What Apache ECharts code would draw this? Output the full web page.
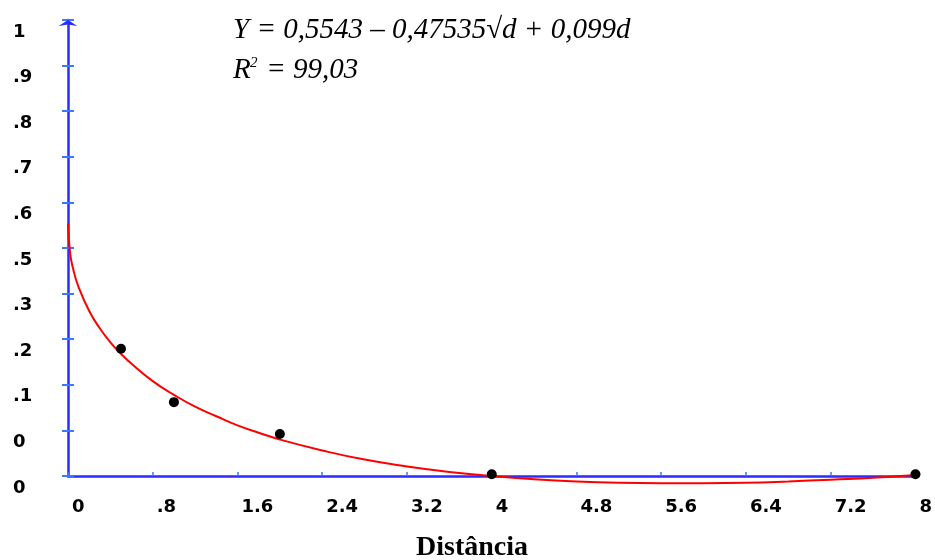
<!DOCTYPE html>
<html>
<head>
<meta charset="utf-8">
<script src="https://cdn.jsdelivr.net/npm/echarts@6/dist/echarts.min.js"></script>
<style>
  html, body { margin: 0; padding: 0; background: #fff; }
  #chart { width: 935px; height: 560px; }
</style>
</head>
<body>
<div id="chart"></div>
<script>
let chart = echarts.init(document.getElementById('chart'));

// pontos observados (distância, Y)
let obs_d = [0.5, 1.0, 2.0, 4.0, 8.0];
let obs_y = [0.279, 0.162, 0.092, 0.004, 0.004];

// curva ajustada
let curve_d = [0, 0.02, 0.05, 0.1, 0.2, 0.3, 0.4, 0.5, 0.6, 0.8, 1.0, 1.2, 1.4, 1.6, 1.8, 2.0,
    2.4, 2.8, 3.2, 3.6, 4.0, 4.4, 4.8, 5.2, 5.6, 6.0, 6.4, 6.8, 7.2, 7.6, 8.0];
let curve_y = [0.554, 0.489, 0.453, 0.414, 0.362, 0.324, 0.293, 0.268, 0.246, 0.208, 0.178, 0.152, 0.131, 0.111, 0.095, 0.080,
    0.056, 0.036, 0.021, 0.009, 0.000, -0.007, -0.012, -0.015, -0.016, -0.016, -0.015, -0.012, -0.008, -0.004, 0.002];

// rótulos dos eixos, como aparecem
let x_labels = ['0', '.8', '1.6', '2.4', '3.2', '4', '4.8', '5.6', '6.4', '7.2', '8'];
let y_labels = ['0', '0', '.1', '.2', '.3', '.5', '.6', '.7', '.8', '.9', '1'];

let blue = '#2b2bff';
let tick_blue = '#3a78ff';
let label_font = {fontFamily: 'DejaVu Sans', fontWeight: 'bold', fontSize: 18, color: '#000'};

let option = {
    animation: false,
    grid: {left: 68, right: 16, top: 20, bottom: 84},
    xAxis: {
        type: 'value',
        min: 0, max: 8, interval: 0.8,
        splitLine: {show: false},
        axisLine: {onZero: false, lineStyle: {color: blue, width: 2.5}},
        axisTick: {inside: true, length: 4, lineStyle: {color: tick_blue, width: 1.5}},
        axisLabel: Object.assign({
            align: 'left',
            margin: 22,
            padding: [0, 0, 0, 4],
            showMinLabel: true, showMaxLabel: true,
            formatter: v => x_labels[Math.round(v / 0.8)]
        }, label_font)
    },
    yAxis: [
        {
            type: 'value',
            min: 0, max: 1, interval: 0.1,
            splitLine: {show: false},
            axisLine: {onZero: false, symbol: ['none', 'arrow'], symbolSize: [14, 6], lineStyle: {color: blue, width: 2.5}},
            axisTick: {length: 6, lineStyle: {color: tick_blue, width: 2}},
            axisLabel: Object.assign({
                align: 'left',
                verticalAlign: 'top',
                margin: 55,
                padding: [3, 0, 0, 0],
                formatter: v => y_labels[Math.round(v * 10)]
            }, label_font)
        },
        {
            type: 'value',
            position: 'left',
            min: 0, max: 1, interval: 0.1,
            splitLine: {show: false},
            axisLine: {show: false},
            axisTick: {inside: true, length: 6, lineStyle: {color: tick_blue, width: 2}},
            axisLabel: {show: false}
        }
    ],
    series: [
        {
            type: 'line',
            data: curve_d.map((d, i) => [d, curve_y[i]]),
            smooth: true,
            showSymbol: false,
            clip: false,
            lineStyle: {color: '#ff0000', width: 2},
            z: 3
        },
        {
            type: 'scatter',
            data: obs_d.map((d, i) => [d, obs_y[i]]),
            symbolSize: 10,
            clip: false,
            itemStyle: {color: '#000', opacity: 1},
            z: 4
        }
    ],
    graphic: [
        {
            type: 'text', left: 233, top: 16,
            style: {text: 'Y = 0,5543 – 0,47535√d + 0,099d', font: 'italic 29px "Liberation Serif"', fill: '#000'}
        },
        {
            type: 'text', left: 233, top: 56,
            style: {text: 'R', font: 'italic 29px "Liberation Serif"', fill: '#000'}
        },
        {
            type: 'text', left: 250, top: 56,
            style: {text: '2', font: 'italic 15px "Liberation Serif"', fill: '#000'}
        },
        {
            type: 'text', left: 259, top: 56,
            style: {text: ' = 99,03', font: 'italic 29px "Liberation Serif"', fill: '#000'}
        },
        {
            type: 'text', left: 416, top: 534,
            style: {text: 'Distância', font: 'bold 28px "Liberation Serif"', fill: '#000'}
        }
    ]
};

chart.setOption(option);
</script>
</body>
</html>
